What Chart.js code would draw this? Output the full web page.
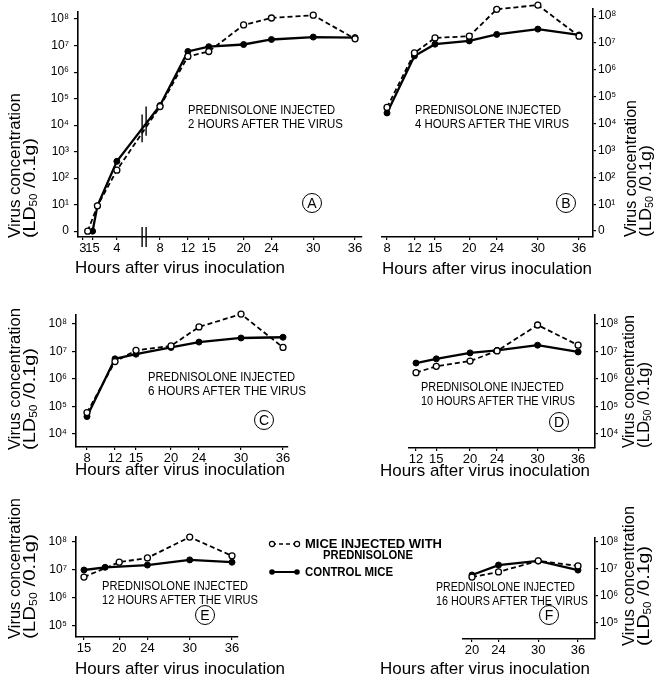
<!DOCTYPE html>
<html>
<head>
<meta charset="utf-8">
<script src="https://cdn.jsdelivr.net/npm/chart.js@4.4.1/dist/chart.umd.min.js"></script>
<style>
  body { margin: 0; background: #fff; }
  #fig { position: relative; width: 654px; height: 679px; overflow: hidden; background: #fff; }
  #fig canvas { position: absolute; left: 0; top: 0; }
  .t { position: absolute; left: 0; top: 0; white-space: nowrap; line-height: 1; color: #000;
       font-family: 'Liberation Sans', 'DejaVu Sans', Arial, sans-serif; }
  .circ { position: absolute; width: 18px; height: 18px; border: 1.6px solid #000; border-radius: 50%;
          font: 14px 'Liberation Sans', Arial, sans-serif; line-height: 18px; text-align: center; }
</style>
</head>
<body>
<div id="fig">
  <canvas id="cA" width="654" height="679"></canvas>
  <canvas id="cB" width="654" height="679"></canvas>
  <canvas id="cC" width="654" height="679"></canvas>
  <canvas id="cD" width="654" height="679"></canvas>
  <canvas id="cE" width="654" height="679"></canvas>
  <canvas id="cF" width="654" height="679"></canvas>
</div>
<script>
// ---- data (hours after inoculation, virus concentration LD50/0.1 g) ----
// A: prednisolone 2 h after the virus
const hoursPredA = [1, 2, 4, 8, 12, 15, 20, 24, 30, 36];
const predA = [1, 9, 200, 5.0e4, 3.9e6, 6.0e6, 6.0e7, 1.1e8, 1.4e8, 1.8e7];
const hoursCtrlA = [1.5, 2, 4, 8, 12, 15, 20, 24, 30, 36];
const ctrlA = [1, 9, 430, 5.5e4, 6.0e6, 9.1e6, 1.1e7, 1.7e7, 2.1e7, 2.0e7];
// B: 4 h
const hoursB = [8, 12, 15, 20, 24, 30, 36];
const predB = [4.0e4, 4.3e6, 1.55e7, 1.8e7, 1.8e8, 2.6e8, 1.8e7];
const ctrlB = [2.5e4, 3.3e6, 9.1e6, 1.2e7, 2.1e7, 3.3e7, 2.0e7];
// C: 6 h
const hoursC = [8, 12, 15, 20, 24, 30, 36];
const predC = [6.0e4, 4.3e6, 1.1e7, 1.6e7, 7.8e7, 2.3e8, 1.4e7];
const ctrlC = [4.3e4, 5.4e6, 8.0e6, 1.4e7, 2.2e7, 3.1e7, 3.3e7];
// D: 10 h
const hoursD = [12, 15, 20, 24, 30, 36];
const predD = [1.7e6, 2.9e6, 4.5e6, 1.05e7, 9.2e7, 1.7e7];
const ctrlD = [3.8e6, 5.4e6, 8.9e6, 1.1e7, 1.7e7, 9.6e6];
// E: 12 h
const hoursPredE = [15, 20, 24, 30, 36];
const predE = [5.6e6, 1.9e7, 2.7e7, 1.5e8, 3.2e7];
const hoursCtrlE = [15, 18, 24, 30, 36];
const ctrlE = [1.0e7, 1.25e7, 1.5e7, 2.3e7, 1.9e7];
// F: 16 h
const hoursF = [20, 24, 30, 36];
const predF = [5.0e6, 7.8e6, 2.0e7, 1.3e7];
const ctrlF = [6.0e6, 1.4e7, 2.0e7, 9.1e6];

// ---- tick values / labels ----
const xTicksA = [0.5, 1.5, 4, 8, 12, 15, 20, 24, 30, 36];
const xLabelsA = ['3', '15', '4', '8', '12', '15', '20', '24', '30', '36'];
const xTicksB = [8, 12, 15, 20, 24, 30, 36];
const xTicksC = [8, 12, 15, 20, 24, 30, 36];
const xTicksD = [12, 15, 20, 24, 30, 36];
const xTicksE = [15, 20, 24, 30, 36];
const xTicksF = [20, 24, 30, 36];
const yTicks0to8 = [1, 1e1, 1e2, 1e3, 1e4, 1e5, 1e6, 1e7, 1e8];
const yTicks4to8 = [1e4, 1e5, 1e6, 1e7, 1e8];
const yTicks5to8 = [1e5, 1e6, 1e7, 1e8];

const W = 654, H = 679;
const FONT = "'Liberation Sans', 'DejaVu Sans', Arial, sans-serif";
Chart.defaults.font.family = FONT;
Chart.defaults.color = '#000';

const SUP = { '0': '⁰', '1': '¹', '2': '²', '3': '³', '4': '⁴', '5': '⁵', '6': '⁶', '7': '⁷', '8': '⁸', '9': '⁹' };
function powLabel(v) {
  const e = Math.round(Math.log10(v));
  return e === 0 ? '0' : '10' + String(e).split('').map(c => SUP[c]).join('');
}

// linear scale with a compressed/expanded early part (axis break in panel A)
class BrokenScale extends Chart.LinearScale {
  _t(v) { const b = this.options.brk; return v < b.at ? v * b.ratio + b.shift : v; }
  getPixelForValue(v) {
    if (v === null || v === undefined || isNaN(v)) return NaN;
    const a = this._t(this.min), z = this._t(this.max);
    return this.getPixelForDecimal((this._t(v) - a) / (z - a));
  }
  getValueForPixel(p) {
    const a = this._t(this.min), z = this._t(this.max);
    return a + this.getDecimalForPixel(p) * (z - a);
  }
}
BrokenScale.id = 'broken';
BrokenScale.defaults = Chart.LinearScale.defaults;
Chart.register(BrokenScale);

const breakMarks = {
  id: 'breakMarks',
  afterDraw(chart) {
    const { ctx, scales: { x, y } } = chart;
    const px = x.getPixelForValue(x.options.brk.at);
    ctx.save();
    ctx.strokeStyle = '#000';
    ctx.lineWidth = 1.4;
    const bars = [[px - 4, y.bottom - 10, y.bottom + 10], [px, y.bottom - 10, y.bottom + 10],
                  [px - 4, y.getPixelForValue(10 ** 4.4), y.getPixelForValue(10 ** 3.35)],
                  [px, y.getPixelForValue(10 ** 4.7), y.getPixelForValue(10 ** 3.6)]];
    bars.forEach(([bx, y1, y2]) => { ctx.beginPath(); ctx.moveTo(bx, y1); ctx.lineTo(bx, y2); ctx.stroke(); });
    ctx.restore();
  }
};

function series(hp, vp, hc, vc) {
  return [
    { data: hp.map((h, i) => ({ x: h, y: vp[i] })), borderColor: '#000', borderWidth: 1.8, borderDash: [5, 3],
      pointRadius: 3, pointBackgroundColor: '#fff', pointBorderColor: '#000', pointBorderWidth: 1.3,
      clip: false, tension: 0 },
    { data: hc.map((h, i) => ({ x: h, y: vc[i] })), borderColor: '#000', borderWidth: 2.3,
      pointRadius: 3, pointBackgroundColor: '#000', pointBorderColor: '#000', pointBorderWidth: 1,
      clip: false, tension: 0 }
  ];
}

function panel(id, p) {
  const right = p.yPos === 'right';
  const YW = right ? 28 : 42, XH = 22;
  return new Chart(document.getElementById(id), {
    type: 'line',
    data: { datasets: p.datasets },
    options: {
      responsive: false,
      animation: false,
      events: [],
      layout: { padding: {
        left: right ? p.L : p.L - YW,
        right: right ? W - p.R - YW : W - p.R,
        top: p.T,
        bottom: H - p.B - XH } },
      plugins: { legend: { display: false }, tooltip: { enabled: false } },
      scales: {
        x: {
          type: p.brk ? 'broken' : 'linear',
          brk: p.brk,
          min: p.xMin, max: p.xMax, bounds: 'data',
          afterBuildTicks: s => { s.ticks = p.xTicks.map(v => ({ value: v })); },
          afterFit: s => { s.height = XH; },
          ticks: { autoSkip: false, maxRotation: 0, padding: 1, font: { size: 13 },
                   callback: (v, i) => p.xLabels ? p.xLabels[i] : String(v) },
          grid: { drawOnChartArea: false, tickLength: 3, color: '#000', lineWidth: 1.2 },
          border: { color: '#000', width: 1.6 }
        },
        y: {
          type: 'logarithmic', position: right ? 'right' : 'left',
          min: p.yMin, max: p.yMax, bounds: 'data',
          afterBuildTicks: s => { s.ticks = p.yTicks.map(v => ({ value: v })); },
          afterFit: s => { s.width = YW; },
          ticks: { autoSkip: false, padding: right ? 2 : 5, font: { size: 12 }, callback: v => powLabel(v) },
          grid: { drawOnChartArea: false, tickLength: right ? 3 : 4, color: '#000', lineWidth: 1.2 },
          border: { color: '#000', width: 1.6 }
        }
      }
    },
    plugins: p.plugins || []
  });
}

panel('cA', { L: 78, R: 362, T: 8, B: 237, xMin: 0, xMax: 37, brk: { at: 6, ratio: 1.395, shift: -3.78 },
  xTicks: xTicksA, xLabels: xLabelsA, yMin: 10 ** -0.22, yMax: 10 ** 8.26, yTicks: yTicks0to8,
  datasets: series(hoursPredA, predA, hoursCtrlA, ctrlA), plugins: [breakMarks] });
panel('cB', { L: 382, R: 593, T: 8, B: 237, yPos: 'right', xMin: 7.27, xMax: 38.04, xTicks: xTicksB,
  yMin: 10 ** -0.22, yMax: 10 ** 8.26, yTicks: yTicks0to8, datasets: series(hoursB, predB, hoursB, ctrlB) });
panel('cC', { L: 76, R: 288, T: 315, B: 447, xMin: 6.43, xMax: 36.71, xTicks: xTicksC,
  yMin: 10 ** 3.527, yMax: 10 ** 8.327, yTicks: yTicks4to8, datasets: series(hoursC, predC, hoursC, ctrlC) });
panel('cD', { L: 409, R: 595, T: 315, B: 448, yPos: 'right', xMin: 10.96, xMax: 38.5, xTicks: xTicksD,
  yMin: 10 ** 3.491, yMax: 10 ** 8.327, yTicks: yTicks4to8, datasets: series(hoursD, predD, hoursD, ctrlD) });
panel('cE', { L: 76, R: 238, T: 537, B: 637, xMin: 13.87, xMax: 36.85, xTicks: xTicksE,
  yMin: 10 ** 4.607, yMax: 10 ** 8.179, yTicks: yTicks5to8, datasets: series(hoursPredE, predE, hoursCtrlE, ctrlE) });
panel('cF', { L: 463, R: 595, T: 538, B: 639, yPos: 'right', xMin: 18.64, xMax: 38.57, xTicks: xTicksF,
  yMin: 10 ** 4.407, yMax: 10 ** 8.148, yTicks: yTicks5to8, datasets: series(hoursF, predF, hoursF, ctrlF) });

// ---- text ----
const fig = document.getElementById('fig');
function text(html, x, y, w, size, opt = {}) {
  const d = document.createElement('div');
  d.className = 't';
  d.innerHTML = html;
  d.style.fontSize = size + 'px';
  if (opt.weight) d.style.fontWeight = opt.weight;
  fig.appendChild(d);
  const s = w / d.getBoundingClientRect().width;
  d.style.left = x + 'px';
  d.style.top = y + 'px';
  d.style.transformOrigin = '0 0';
  d.style.transform = opt.vertical
    ? `rotate(-90deg) scaleX(${s}) translateY(-50%)`
    : `scaleX(${s}) translateY(-50%)`;
}
const LD = '(LD<span style="font-size:60%;vertical-align:-0.25em">50</span> /0.1g)';
const XT = 'Hours after virus inoculation';

// y titles (vertical, x = centre, y = bottom end)
[[14, 30, 238, 145, 100], [14, 30, 450, 142, 102], [14, 30, 639, 141, 105],
 [630, 646, 237, 137, 92], [628, 644, 448, 133, 86], [628, 644, 646, 140, 100]]
  .forEach(([x1, x2, yb, l1, l2]) => {
    text('Virus concentration', x1, yb, l1, 17, { vertical: true });
    text(LD, x2, yb, l2, 17, { vertical: true });
  });

// x titles
[[75, 267], [382, 268], [75, 469], [380, 470], [75, 668], [380, 668]]
  .forEach(([x, y]) => text(XT, x, y, 210, 17));

// panel annotations
[[188, 110, 147, 155, 2], [415, 110, 146, 154, 4], [148, 377, 147, 158, 6],
 [421, 387, 143, 154, 10], [102, 586, 146, 156, 12], [436, 587, 139, 152, 16]]
  .forEach(([x, y, w1, w2, h]) => {
    text('PREDNISOLONE INJECTED', x, y, w1, 12.5);
    text(h + ' HOURS AFTER THE VIRUS', x, y + 14, w2, 12.5);
  });

// circled panel letters
[['A', 312, 203], ['B', 566, 203], ['C', 264, 420], ['D', 559, 422], ['E', 205, 615], ['F', 549, 615]]
  .forEach(([c, x, y]) => {
    const d = document.createElement('div');
    d.className = 'circ';
    d.textContent = c;
    d.style.left = (x - 10) + 'px';
    d.style.top = (y - 10) + 'px';
    fig.appendChild(d);
  });

// legend
const NS = 'http://www.w3.org/2000/svg';
const svg = document.createElementNS(NS, 'svg');
svg.setAttribute('width', 40); svg.setAttribute('height', 40);
svg.style.position = 'absolute'; svg.style.left = '265px'; svg.style.top = '535px';
svg.innerHTML =
  '<line x1="7" y1="9" x2="32" y2="9" stroke="#000" stroke-width="1.6" stroke-dasharray="4 3"/>' +
  '<circle cx="7" cy="9" r="2.6" fill="#fff" stroke="#000" stroke-width="1.2"/>' +
  '<circle cx="32" cy="9" r="2.6" fill="#fff" stroke="#000" stroke-width="1.2"/>' +
  '<line x1="7" y1="37" x2="32" y2="37" stroke="#000" stroke-width="2"/>' +
  '<circle cx="7" cy="37" r="2.8" fill="#000"/><circle cx="32" cy="37" r="2.8" fill="#000"/>';
fig.appendChild(svg);
text('MICE INJECTED WITH', 305, 544, 137, 12.5, { weight: '600' });
text('PREDNISOLONE', 323, 555, 90, 12.5, { weight: '600' });
text('CONTROL MICE', 305, 572, 88, 12.5, { weight: '600' });
</script>
</body>
</html>
